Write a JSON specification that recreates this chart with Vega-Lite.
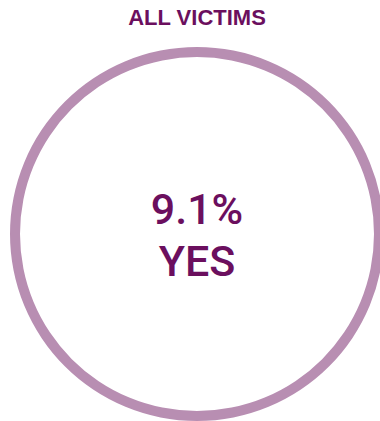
{
  "$schema": "https://vega.github.io/schema/vega-lite/v6.json",
  "width": 374,
  "height": 374,
  "autosize": "none",
  "padding": {"left": 10, "top": 47, "right": 0, "bottom": 0},
  "background": "white",
  "title": {
    "text": "ALL VICTIMS",
    "font": "Liberation Sans",
    "fontSize": 22,
    "fontWeight": "bold",
    "color": "#6b0f5e",
    "anchor": "middle",
    "offset": 17
  },
  "data": {"values": [{"group": "All victims", "share": 100, "yes_pct": "9.1%", "answer": "YES"}]},
  "layer": [
    {
      "mark": {"type": "arc", "outerRadius": 187, "innerRadius": 177, "color": "#b88eb2"},
      "encoding": {"theta": {"field": "share", "type": "quantitative"}}
    },
    {
      "mark": {"type": "text", "font": "Roboto", "fontSize": 43, "fontWeight": 500, "color": "#6b0f5e", "baseline": "middle", "dy": -23},
      "encoding": {"text": {"field": "yes_pct", "type": "nominal"}}
    },
    {
      "mark": {"type": "text", "font": "Roboto", "fontSize": 43, "fontWeight": 500, "color": "#6b0f5e", "baseline": "middle", "dy": 29},
      "encoding": {"text": {"field": "answer", "type": "nominal"}}
    }
  ],
  "config": {"view": {"stroke": null}}
}
